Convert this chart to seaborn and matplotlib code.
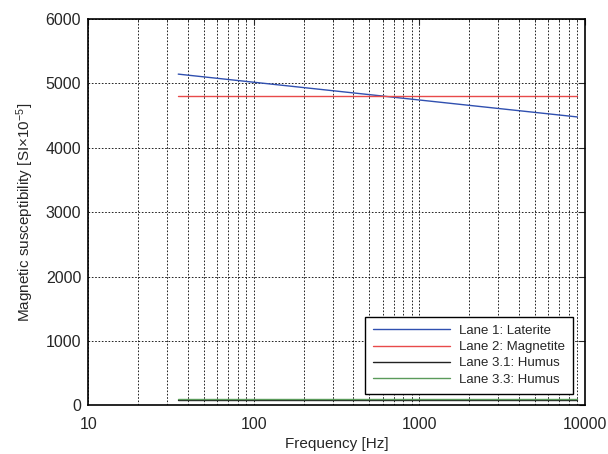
import matplotlib
matplotlib.use("Agg")
import matplotlib.pyplot as plt
import seaborn as sns
import pandas as pd

# Data
freq = [35, 9000]
lane1_laterite = [5145, 4480]
lane2_magnetite = [4805, 4805]
lane31_humus = [80, 80]
lane33_humus = [105, 105]
labels = ["Lane 1: Laterite", "Lane 2: Magnetite", "Lane 3.1: Humus", "Lane 3.3: Humus"]
colors = ["#3050b0", "#e84a4a", "#222222", "#5a9a5a"]

sns.set_style("white")
plt.rcParams["font.family"] = ["Liberation Sans", "DejaVu Sans"]
plt.rcParams["mathtext.fontset"] = "custom"
plt.rcParams["mathtext.rm"] = "Liberation Sans"
plt.rcParams["mathtext.it"] = "Liberation Sans:italic"

rows = []
for lab, vals in zip(labels, [lane1_laterite, lane2_magnetite, lane31_humus, lane33_humus]):
    for f, v in zip(freq, vals):
        rows.append({"freq": f, "value": v, "series": lab})
df = pd.DataFrame(rows)

fig, ax = plt.subplots(figsize=(6.08, 4.54), dpi=100)
sns.lineplot(data=df, x="freq", y="value", hue="series", hue_order=labels,
             palette=colors, linewidth=1.0, ax=ax)
ax.set_xscale("log")
ax.set_xlim(10, 10000)
ax.set_ylim(0, 6000)
ax.set_xticks([10, 100, 1000, 10000])
ax.set_xticklabels(["10", "100", "1000", "10000"])
ax.set_yticks(range(0, 6001, 1000))
ax.grid(True, which="major", color="black", linestyle=(0, (2, 2)), linewidth=0.6)
ax.grid(True, which="minor", axis="x", color="black", linestyle=(0, (2, 2)), linewidth=0.6)
ax.tick_params(which="both", direction="in", top=True, right=True, labelsize=11.5)
ax.tick_params(which="major", length=4)
ax.tick_params(axis="x", which="major", pad=8)
ax.tick_params(axis="y", which="major", pad=5)
ax.tick_params(which="minor", length=2)
for s in ax.spines.values():
    s.set_color("black")
    s.set_linewidth(1.2)
ax.set_xlabel("Frequency [Hz]", fontsize=11, labelpad=4)
ax.set_ylabel(r"Magnetic susceptibility [SI$\times$10$^{-5}$]", fontsize=11, labelpad=7)
leg = ax.legend(loc="lower right", fontsize=9.5, frameon=True, fancybox=False,
                edgecolor="black", framealpha=1, handlelength=5.8, handletextpad=0.7,
                borderaxespad=0.9, labelspacing=0.3, borderpad=0.6)
leg.get_frame().set_linewidth(1.0)
fig.subplots_adjust(left=0.145, right=0.962, top=0.958, bottom=0.107)
fig.savefig("out.png", dpi=100)
